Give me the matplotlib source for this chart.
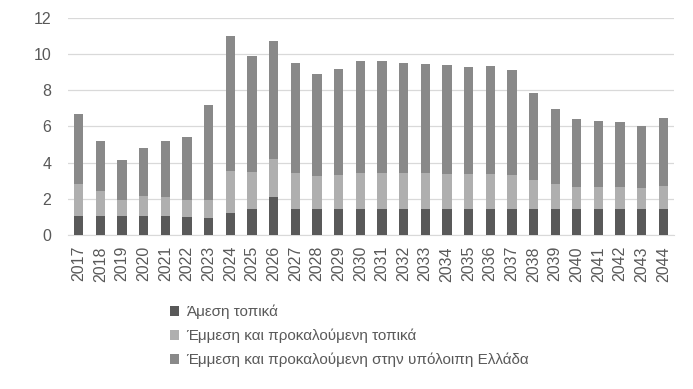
import matplotlib.pyplot as plt
import numpy as np

plt.rcParams['font.family'] = ['Liberation Sans', 'DejaVu Sans']

# Έτη
years = [str(y) for y in range(2017, 2045)]
# Κορυφές (σωρευτικά) όπως διαβάζονται από το γράφημα
direct = [1.07, 1.07, 1.07, 1.07, 1.07, 1.01, 0.96, 1.24, 1.46, 2.12,
          1.46, 1.46, 1.46, 1.46, 1.46, 1.46, 1.46, 1.46, 1.46, 1.46,
          1.46, 1.46, 1.46, 1.46, 1.46, 1.46, 1.46, 1.46]
local_top = [2.84, 2.45, 1.95, 2.18, 2.12, 1.95, 1.95, 3.56, 3.50, 4.22,
             3.45, 3.28, 3.34, 3.45, 3.45, 3.45, 3.45, 3.39, 3.39, 3.39,
             3.34, 3.06, 2.84, 2.67, 2.67, 2.67, 2.62, 2.73]
total = [6.71, 5.22, 4.17, 4.83, 5.22, 5.44, 7.21, 11.02, 9.92, 10.75,
         9.53, 8.92, 9.20, 9.59, 9.64, 9.53, 9.47, 9.42, 9.31, 9.36,
         9.14, 7.87, 6.99, 6.43, 6.32, 6.27, 6.05, 6.49]

labels = ['Άμεση τοπικά',
          'Έμμεση και προκαλούμενη τοπικά',
          'Έμμεση και προκαλούμενη στην υπόλοιπη Ελλάδα']

d = np.array(direct)
loc = np.array(local_top) - d
rest = np.array(total) - np.array(local_top)

fig = plt.figure(figsize=(6.93, 3.89), dpi=100)
ax = fig.add_axes([0.098, 0.396, 0.875, 0.558])
x = np.arange(len(years))
w = 0.43
b1 = ax.bar(x, d, w, color='#595959', label=labels[0], zorder=3)
b2 = ax.bar(x, loc, w, bottom=d, color='#afafaf', label=labels[1], zorder=3)
b3 = ax.bar(x, rest, w, bottom=d + loc, color='#898989', label=labels[2], zorder=3)

ax.set_xlim(-0.5, len(years) - 0.5)
ax.set_ylim(0, 12)
ax.set_yticks(range(0, 13, 2))
ax.set_xticks(x)
ax.set_xticklabels(years, rotation=90)
ax.yaxis.grid(True, color='#d9d9d9', linewidth=0.9, zorder=0)
for s in ['top', 'right', 'left']:
    ax.spines[s].set_visible(False)
ax.spines['bottom'].set_color('#d9d9d9')
ax.tick_params(axis='both', length=0, colors='#595959', labelsize=11.5)
ax.tick_params(axis='y', pad=12)
ax.tick_params(axis='x', pad=8)

fig.legend(handles=[b1, b2, b3], labels=labels, loc='upper left',
           bbox_to_anchor=(0.236, 0.232), frameon=False, fontsize=11,
           labelcolor='#595959', handlelength=0.6, handleheight=0.6,
           handletextpad=0.45, labelspacing=0.62, borderaxespad=0)

fig.savefig('out.png', dpi=100)
